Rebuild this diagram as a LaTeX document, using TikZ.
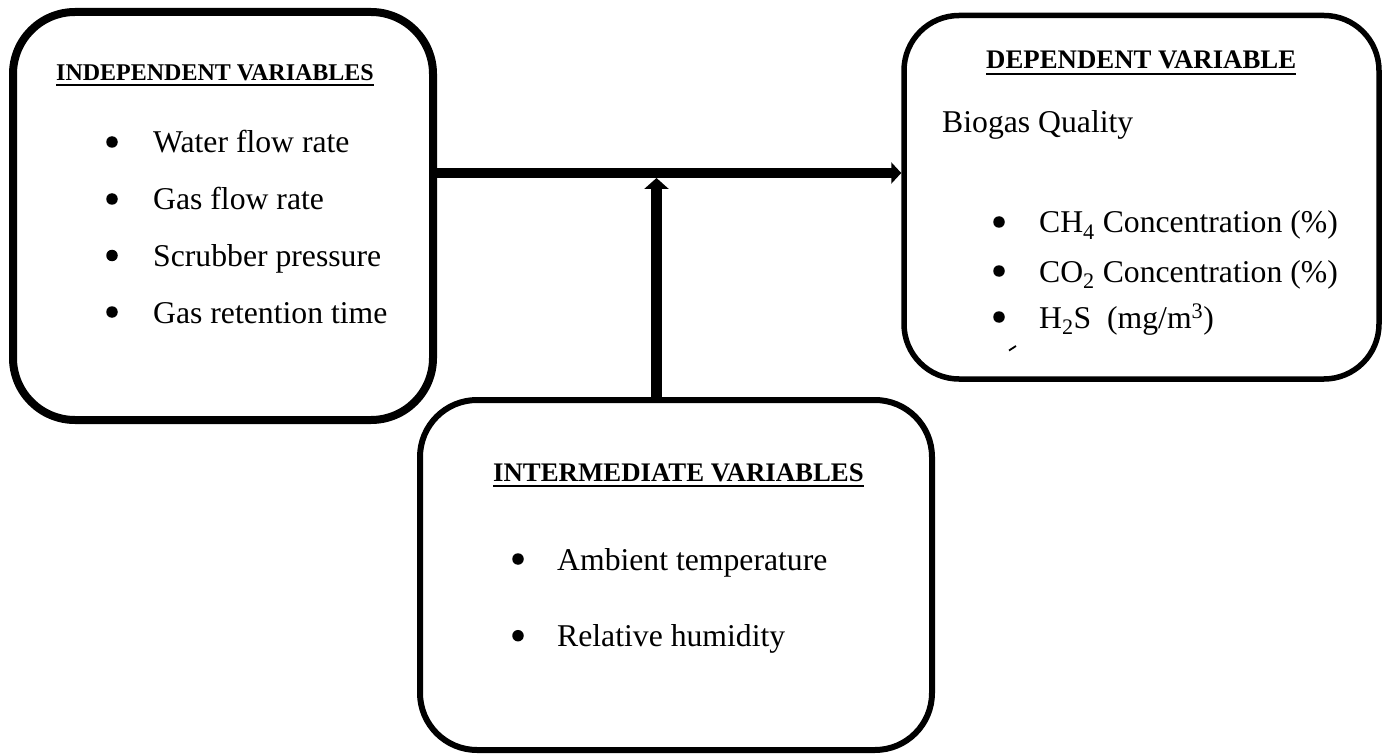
\documentclass[tikz,border=0pt]{standalone}
\usepackage{fontspec}
\setmainfont{Liberation Serif}
\usetikzlibrary{arrows.meta}
\tikzset{
  box/.style={draw=black, rounded corners=#1, inner sep=0pt},
  txt/.style={anchor=base west, inner sep=0pt, font=\fontsize{31.7pt}{38pt}\selectfont},
  bul/.style={circle, fill=black, inner sep=0pt, minimum size=11.5pt, yshift=11pt},
  headsm/.style={anchor=base west, inner sep=0pt, font=\fontsize{24pt}{29pt}\selectfont\bfseries},
  headlg/.style={anchor=base west, inner sep=0pt, font=\fontsize{26.8pt}{32pt}\selectfont\bfseries},
  uline/.style={line width=2.3pt},
  flow/.style={draw=black, line width=#1}
}
\begin{document}
\begin{tikzpicture}[x=1pt,y=-1pt]
\useasboundingbox (0,0) rectangle (1387,754);
% boxes
\node[box=62pt, line width=8pt, minimum width=420pt, minimum height=408pt] (indep) at (223,216) {};
\node[box=55pt, line width=5.5pt, minimum width=475pt, minimum height=363.5pt] (dep) at (1141.5,197.25) {};
\node[box=57pt, line width=6pt, minimum width=512pt, minimum height=350pt] (inter) at (676,575) {};
% connectors
\coordinate (hrow) at (0,173);
\coordinate (junc) at (656.5,178);
\draw[flow=10pt, -{Triangle[length=10pt,width=21pt]}] (indep.east |- hrow) -- (dep.west |- hrow);
\draw[flow=11pt, -{Triangle[length=11pt,width=24pt]}] (inter.north -| junc) -- (junc);
% independent
\node[headsm] (h1) at (56,80.5) {INDEPENDENT VARIABLES};
\draw[uline] ([yshift=-4.5pt]h1.base west) -- ([yshift=-4.5pt]h1.base east);
\node[bul] (b11) at (112,153) {};
\node[txt] (t11) at (153,153) {Water flow rate};
\node[bul] (b12) at (112,210) {};
\node[txt] (t12) at (153,210) {Gas flow rate};
\node[bul] (b13) at (112,266.5) {};
\node[txt] (t13) at (153,266.5) {Scrubber pressure};
\node[bul] (b14) at (112,323) {};
\node[txt] (t14) at (153,323) {Gas retention time};
% dependent
\node[headlg] (h2) at (986,68.3) {DEPENDENT VARIABLE};
\draw[uline] ([yshift=-6pt]h2.base west) -- ([yshift=-6pt]h2.base east);
\node[txt] (t20) at (942,133) {Biogas Quality};
\node[bul] (b21) at (999,233) {};
\node[txt] (t21) at (1039,233) {CH\textsubscript{4} Concentration (\%)};
\node[bul] (b22) at (999,282) {};
\node[txt] (t22) at (1039,282) {CO\textsubscript{2} Concentration (\%)};
\node[bul] (b23) at (999,328) {};
\node[txt] (t23) at (1039,328) {H\textsubscript{2}S\ \ (mg/m\textsuperscript{3})};
\draw[line width=1.8pt] (1009,350.5) -- (1016,346);
% intermediate
\node[headlg] (h3) at (493,481.7) {INTERMEDIATE VARIABLES};
\draw[uline] ([yshift=-4.5pt]h3.base west) -- ([yshift=-4.5pt]h3.base east);
\node[bul] (b31) at (518,570) {};
\node[txt] (t31) at (557,570) {Ambient temperature};
\node[bul] (b32) at (518,646.7) {};
\node[txt] (t32) at (557,646.7) {Relative humidity};
\end{tikzpicture}
\end{document}
